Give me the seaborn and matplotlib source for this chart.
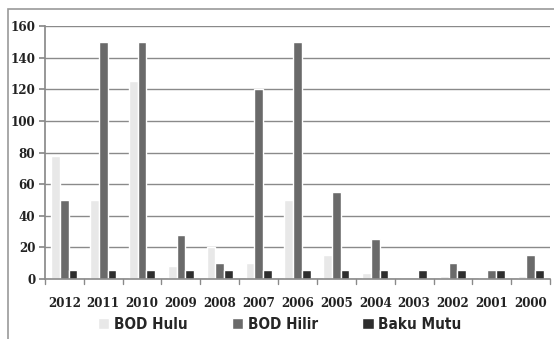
import matplotlib
matplotlib.use("Agg")
import matplotlib.pyplot as plt
from matplotlib.patches import Rectangle
import seaborn as sns
import pandas as pd

years = ["2012", "2011", "2010", "2009", "2008", "2007", "2006",
         "2005", "2004", "2003", "2002", "2001", "2000"]
bod_hulu = [78, 50, 125, 8, 20, 10, 50, 15, 4, 0, 2, 1, 2]
bod_hilir = [50, 150, 150, 28, 10, 120, 150, 55, 25, 0, 10, 6, 15]
baku_mutu = [6, 6, 6, 6, 6, 6, 6, 6, 6, 6, 6, 6, 6]
series = ["BOD Hulu", "BOD Hilir", "Baku Mutu"]
colors = ["#e8e8e8", "#6a6a6a", "#2e2e2e"]

rows = []
for name, vals in zip(series, [bod_hulu, bod_hilir, baku_mutu]):
    for y, v in zip(years, vals):
        rows.append({"Tahun": y, "Seri": name, "BOD": v})
df = pd.DataFrame(rows)

sns.set_theme(style="white")
plt.rcParams["font.family"] = ["DejaVu Serif", "DejaVu Sans"]
plt.rcParams["font.stretch"] = "condensed"

fig = plt.figure(figsize=(5.54, 3.39), dpi=100)
ax = fig.add_axes([0.081, 0.177, 0.912, 0.746])

sns.barplot(data=df, x="Tahun", y="BOD", hue="Seri", order=years,
            hue_order=series, palette=colors, width=0.67, saturation=1,
            errorbar=None, ax=ax, legend=True)

ax.set_ylim(0, 160)
ax.set_yticks(range(0, 161, 20))
ax.set_xlim(-0.5, len(years) - 0.5)
ax.grid(axis="y", color="#8a8a8a", linewidth=1)
ax.set_axisbelow(True)
ax.set_xlabel("")
ax.set_ylabel("")
for s in ["top", "right"]:
    ax.spines[s].set_visible(False)
ax.spines["left"].set_color("#8a8a8a")
ax.spines["bottom"].set_color("#8a8a8a")
ax.spines["bottom"].set_linewidth(1.2)

# y ticks pointing left, x ticks drawn between categories
ax.tick_params(axis="y", left=True, length=4, color="#8a8a8a",
               labelsize=9.5, pad=3)
ax.tick_params(axis="x", bottom=False, labelsize=9.5, pad=7)
for i in range(len(years) + 1):
    ax.plot([i - 0.5, i - 0.5], [0, -0.02], transform=ax.get_xaxis_transform(),
            color="#8a8a8a", linewidth=1, clip_on=False)
for lab in ax.get_xticklabels() + ax.get_yticklabels():
    lab.set_fontweight("bold")
    lab.set_color("#222222")

handles, labels = ax.get_legend_handles_labels()
ax.legend(handles, labels, loc="upper center", bbox_to_anchor=(0.465, -0.095),
          ncol=3, frameon=False, handlelength=0.75,
          handleheight=0.75, handletextpad=0.3, columnspacing=2.9,
          prop={"family": "DejaVu Sans", "stretch": "condensed",
                "weight": "bold", "size": 11})

# outer chart border
fig.patches.append(Rectangle((8 / 554, -0.1), 1.2, 1 - 9 / 339 + 0.1,
                             transform=fig.transFigure, fill=False,
                             edgecolor="#9a9a9a", linewidth=1.2))

fig.savefig("out.png", dpi=100)
